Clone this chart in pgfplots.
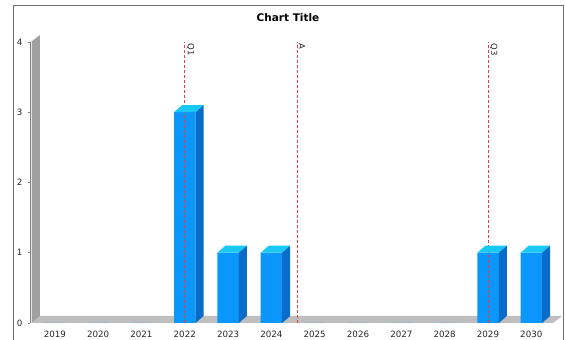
\documentclass[border=0pt]{standalone}
\usepackage{pgfplots}
\pgfplotsset{compat=1.18}
\usepackage{pgfplotstable}
\usepackage{fontspec}
\setmainfont{DejaVu Sans}
\definecolor{barfront}{RGB}{10,150,250}
\definecolor{bartop}{RGB}{25,200,245}
\definecolor{barside}{RGB}{8,108,200}
\definecolor{wallc}{RGB}{160,160,160}
\definecolor{floorc}{RGB}{190,190,190}
\definecolor{framec}{RGB}{110,110,110}
\definecolor{markc}{RGB}{235,60,70}

\pgfplotstableread{
year val
2019 0
2020 0
2021 0
2022 3
2023 1
2024 1
2025 0
2026 0
2027 0
2028 0
2029 1
2030 1
}\datatable

\pgfdeclareplotmark{box3d}{%
  \pgfmathsetlengthmacro\hh{\barval*70.25pt}%
  \pgfsetfillcolor{bartop}%
  \pgfpathmoveto{\pgfpoint{-10.75pt}{0pt}}%
  \pgfpathlineto{\pgfpoint{10.75pt}{0pt}}%
  \pgfpathlineto{\pgfpoint{18.75pt}{7pt}}%
  \pgfpathlineto{\pgfpoint{-2.75pt}{7pt}}%
  \pgfpathclose\pgfusepath{fill}%
  \pgfsetfillcolor{barside}%
  \pgfpathmoveto{\pgfpoint{10.75pt}{0pt}}%
  \pgfpathlineto{\pgfpoint{18.75pt}{7pt}}%
  \pgfpathlineto{\pgfpoint{18.75pt}{7pt-\hh}}%
  \pgfpathlineto{\pgfpoint{10.75pt}{-\hh}}%
  \pgfpathclose\pgfusepath{fill}%
}

\begin{document}
\begin{tikzpicture}[x=1pt,y=1pt]
\useasboundingbox (0,0) rectangle (566,340);
\draw[framec, line width=0.8pt] (13,-5) -- (13,335) -- (563,335) -- (563,-5);
\node[font=\bfseries\fontsize{10.5}{12}\selectfont] at (288,322) {Chart Title};
\begin{axis}[
  at={(31pt,17pt)}, anchor=south west,
  scale only axis, width=522pt, height=281pt,
  xmin=2018.45, xmax=2030.5, ymin=0, ymax=4,
  clip=false,
  axis line style={draw=none},
  tick pos=left,
  tick align=outside,
  major tick length=2pt,
  xtick={2019,...,2030},
  ytick={0,1,2,3,4},
  xtick style={draw=none},
  ytick style={draw=gray, line width=0.5pt, xshift=-1pt},
  /pgf/number format/assume math mode=true,
  /pgf/number format/1000 sep={},
  ticklabel style={font=\fontsize{8.7}{10}\selectfont, text=black!85},
  xticklabel style={yshift=-3pt},
  yticklabel style={xshift=-3pt},
]
% floor and wall
\fill[floorc] (rel axis cs:0,0) -- (rel axis cs:1,0) -- ([shift={(9pt,7pt)}]rel axis cs:1,0) -- ([shift={(9pt,7pt)}]rel axis cs:0,0) -- cycle;
\fill[wallc] (rel axis cs:0,0) -- (rel axis cs:0,1) -- ([shift={(9pt,7pt)}]rel axis cs:0,1) -- ([shift={(9pt,7pt)}]rel axis cs:0,0) -- cycle;
\draw[white!80!gray, line width=1.2pt] ([xshift=0.6pt]rel axis cs:0,0) -- ([xshift=0.6pt]rel axis cs:0,1);
\draw[gray, line width=0.6pt] ([xshift=-1pt]rel axis cs:0,0) -- ([xshift=-1pt]rel axis cs:0,1);
% bars
\addplot[ybar, bar width=21.5pt, fill=barfront, draw=none] table[x=year, y=val] {\datatable};
\addplot[only marks, mark=box3d, mark options={draw=none},
  visualization depends on={rawy \as \barval},
  y filter/.expression={y==0 ? nan : y}, unbounded coords=discard]
  table[x=year, y=val] {\datatable};
% markers
\addplot[markc, line width=0.9pt, dash pattern=on 3pt off 2pt] coordinates {(2022,0) (2022,4)}
  node[pos=1, rotate=-90, anchor=south west, inner sep=1.5pt, text=black!85, font=\fontsize{8.5}{9}\selectfont] {Q1};
\addplot[markc, line width=0.9pt, dash pattern=on 3pt off 2pt] coordinates {(2024.59,0) (2024.59,4)}
  node[pos=1, rotate=-90, anchor=south west, inner sep=1.5pt, text=black!85, font=\fontsize{8.5}{9}\selectfont] {A};
\addplot[markc, line width=0.9pt, dash pattern=on 3pt off 2pt] coordinates {(2029,0) (2029,4)}
  node[pos=1, rotate=-90, anchor=south west, inner sep=1.5pt, text=black!85, font=\fontsize{8.5}{9}\selectfont] {Q3};
\end{axis}
\end{tikzpicture}
\end{document}
